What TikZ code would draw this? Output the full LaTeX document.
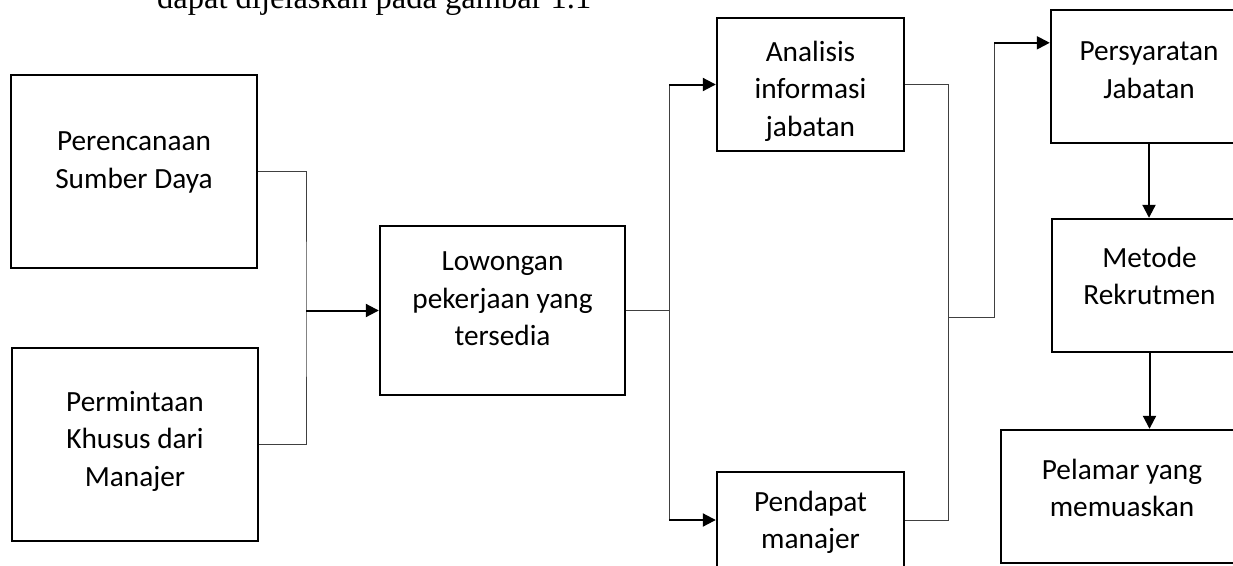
\documentclass[tikz,border=0pt]{standalone}
\usepackage{fontspec}
\setmainfont{Carlito}
\newfontfamily\captionfont{Liberation Serif}
\usetikzlibrary{positioning,arrows.meta}

\begin{document}
\begin{tikzpicture}[x=1pt, y=-1pt,
        box/.style={draw=black, line width=2.4pt, inner sep=0pt},
        boxtext/.style={align=center, inner sep=0pt, font=\fontsize{29.3}{37.5}\selectfont},
        link/.style={line width=1pt, color=black!75},
        arr/.style={line width=2pt, color=black, -{Triangle[length=13pt, width=13pt]}}]
        % Page:
        \clip (0, 0) rectangle (1233, 565);

        % Caption line (cut at the top):
        \node[anchor=base west, inner sep=0pt, font=\captionfont\fontsize{32.5}{39}\selectfont] (caption) at (157, 8) {dapat dijelaskan pada gambar 1.1};

        % Boxes:
        \node[box, minimum width=246, minimum height=193] (per) at (134, 171.5) {};
        \node[box, minimum width=246, minimum height=193] (pmt) at (135, 444.5) {};
        \node[box, minimum width=245, minimum height=169] (low) at (502.5, 310.5) {};
        \node[box, minimum width=187, minimum height=133] (ana) at (810.5, 84.5) {};
        \node[box, minimum width=187, minimum height=96] (pen) at (810.5, 520) {};
        \node[box, minimum width=196, minimum height=133] (psy) at (1149, 76.5) {};
        \node[box, minimum width=195, minimum height=133] (met) at (1149.5, 285.5) {};
        \node[box, minimum width=242, minimum height=133] (pel) at (1122, 496.5) {};

        % Texts in boxes:
        \node[boxtext, below=58pt of per.north] (pertext) {Perencanaan\\Sumber Daya};
        \node[boxtext, below=44pt of pmt.north] (pmttext) {Permintaan\\Khusus dari\\Manajer};
        \node[boxtext, below=27pt of low.north] (lowtext) {Lowongan\\pekerjaan yang\\tersedia};
        \node[boxtext, below=24pt of ana.north] (anatext) {Analisis\\informasi\\jabatan};
        \node[boxtext, below=20pt of pen.north] (pentext) {Pendapat\\manajer};
        \node[boxtext, below=33pt of psy.north] (psytext) {Persyaratan\\Jabatan};
        \node[boxtext, below=29pt of met.north] (mettext) {Metode\\Rekrutmen};
        \node[boxtext, below=30pt of pel.north] (peltext) {Pelamar yang\\memuaskan};

        % Junctions:
        \coordinate (jleft) at (306, 310.5);
        \coordinate (jmid) at (669, 310.5);
        \coordinate (jright) at (948, 317);
        \coordinate (jturn) at (994, 317);
        \coordinate (psyin) at ([yshift=-34pt]psy.north west);

        % Left connectors:
        \draw[link] (per.east) -| (jleft) |- (pmt.east);
        \draw[arr] (jleft) -- (low.west);

        % Middle connectors:
        \draw[link] (low.east) -- (jmid);
        \draw[link] (ana.west -| jmid) -- (pen.west -| jmid);
        \draw[arr] (ana.west -| jmid) -- (ana.west);
        \draw[arr] (pen.west -| jmid) -- (pen.west);

        % Right connectors:
        \draw[link] (ana.east) -| (jright) |- (pen.east);
        \draw[link] (jright) -- (jturn) -- (jturn |- psyin);
        \draw[arr] (jturn |- psyin) -- (psyin);

        % Down the right column:
        \draw[arr] (psy.south) -- (psy.south |- met.north);
        \draw[arr] (met.south) -- (met.south |- pel.north);
\end{tikzpicture}
\end{document}
